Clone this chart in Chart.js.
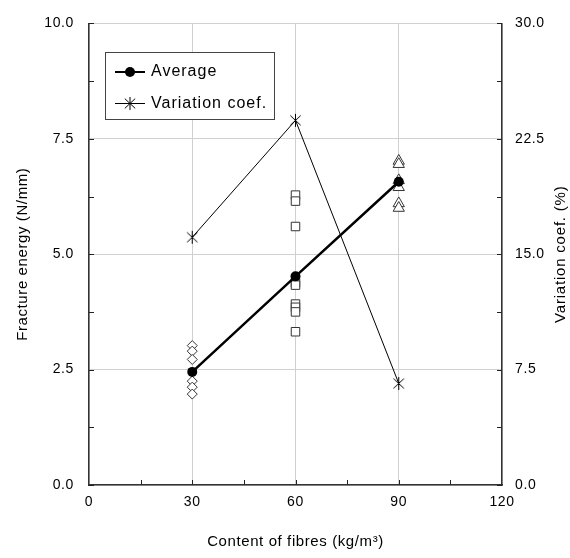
<!DOCTYPE html>
<html>
<head>
<meta charset="utf-8">
<script src="https://cdn.jsdelivr.net/npm/chart.js@4/dist/chart.umd.min.js"></script>
<style>
  html, body { margin: 0; padding: 0; background: #fff; }
  #wrap { width: 570px; height: 558px; }
</style>
</head>
<body>
<div id="wrap"><canvas id="cv" width="570" height="558"></canvas></div>
<script>
// fibre contents (kg/m3)
const fibres = [30, 60, 90];

// individual results (N/mm)
const spec30 = [3.02, 2.90, 2.72, 2.25, 2.12, 1.97];
const spec60 = [6.28, 6.15, 5.60, 4.38, 4.33, 3.92, 3.85, 3.75, 3.32];
const spec90 = [7.02, 6.95, 6.60, 6.45, 6.10, 6.00];

const average = [2.45, 4.52, 6.57];
const variationCoef = [16.1, 23.7, 6.6];

const leftTicks = [0, 2.5, 5, 7.5, 10];
const rightTicks = [0, 7.5, 15, 22.5, 30];
const xTicks = [0, 30, 60, 90, 120];

const FONT = "'Liberation Sans', Arial, sans-serif";
const pts = (x, ys) => ys.map(y => ({ x, y }));

// six-ray asterisk like the original marker
function drawAsterisk(ctx, cx, cy, r) {
  ctx.beginPath();
  ctx.moveTo(cx, cy - r); ctx.lineTo(cx, cy + r);
  ctx.moveTo(cx - r * 0.8, cy - r * 0.75); ctx.lineTo(cx + r * 0.8, cy + r * 0.75);
  ctx.moveTo(cx + r * 0.8, cy - r * 0.75); ctx.lineTo(cx - r * 0.8, cy + r * 0.75);
  ctx.stroke();
}
const asterisk = document.createElement('canvas');
asterisk.width = 15; asterisk.height = 15;
(() => {
  const c = asterisk.getContext('2d');
  c.strokeStyle = '#000';
  c.lineWidth = 1;
  drawAsterisk(c, 7.5, 7.5, 6.5);
})();

const openMark = (style, r, data) => ({
  type: 'scatter',
  data,
  yAxisID: 'y',
  order: 3,
  pointStyle: style,
  pointRadius: r,
  borderColor: '#333',
  backgroundColor: '#fff',
  borderWidth: 1,
  showLine: false
});

// inside tick marks, right title and legend box
const decor = {
  id: 'decor',
  beforeDraw(chart) {
    chart.ctx.letterSpacing = '0.6px';
  },
  afterDraw(chart) {
    const { ctx, chartArea: a, scales } = chart;
    ctx.save();
    ctx.strokeStyle = '#222';
    ctx.lineWidth = 1;
    ctx.beginPath();
    for (let v = 0; v <= 10; v += 1.25) {
      const y = Math.round(scales.y.getPixelForValue(v)) + 0.5;
      ctx.moveTo(a.left, y); ctx.lineTo(a.left + 5, y);
    }
    for (let v = 0; v <= 30; v += 3.75) {
      const y = Math.round(scales.y2.getPixelForValue(v)) + 0.5;
      ctx.moveTo(a.right, y); ctx.lineTo(a.right - 5, y);
    }
    for (let v = 15; v < 120; v += 15) {
      const x = Math.round(scales.x.getPixelForValue(v)) + 0.5;
      ctx.moveTo(x, a.bottom); ctx.lineTo(x, a.bottom - 5);
    }
    ctx.stroke();

    // right axis title, reading bottom-up
    ctx.save();
    ctx.translate(561, (a.top + a.bottom) / 2);
    ctx.rotate(-Math.PI / 2);
    ctx.fillStyle = '#000';
    ctx.font = '15px ' + FONT;
    ctx.letterSpacing = '0.8px';
    ctx.textAlign = 'center';
    ctx.textBaseline = 'middle';
    ctx.fillText('Variation coef. (%)', 0, 0);
    ctx.restore();

    // legend
    const bx = 105, by = 52, bw = 169, bh = 67;
    ctx.fillStyle = '#fff';
    ctx.fillRect(bx, by, bw, bh);
    ctx.strokeStyle = '#444';
    ctx.strokeRect(bx + 0.5, by + 0.5, bw, bh);

    ctx.strokeStyle = '#000';
    ctx.lineWidth = 2;
    ctx.beginPath(); ctx.moveTo(115, 72); ctx.lineTo(145, 72); ctx.stroke();
    ctx.fillStyle = '#000';
    ctx.beginPath(); ctx.arc(130, 72, 5, 0, Math.PI * 2); ctx.fill();

    ctx.lineWidth = 1;
    ctx.beginPath(); ctx.moveTo(115, 103.5); ctx.lineTo(145, 103.5); ctx.stroke();
    drawAsterisk(ctx, 130, 103.5, 6.5);

    ctx.fillStyle = '#000';
    ctx.font = '16px ' + FONT;
    ctx.letterSpacing = '1px';
    ctx.textAlign = 'left';
    ctx.textBaseline = 'middle';
    ctx.fillText('Average', 151, 72);
    ctx.fillText('Variation coef.', 151, 104);
    ctx.restore();
  }
};

new Chart(document.getElementById('cv'), {
  type: 'scatter',
  data: {
    datasets: [
      openMark('rectRot', 5, pts(fibres[0], spec30)),
      openMark('rect', 6, pts(fibres[1], spec60)),
      openMark('triangle', 6.5, pts(fibres[2], spec90)),
      {
        type: 'line',
        label: 'Average',
        order: 1,
        data: fibres.map((x, i) => ({ x, y: average[i] })),
        yAxisID: 'y',
        borderColor: '#000',
        backgroundColor: '#000',
        borderWidth: 2.5,
        pointRadius: 5,
        pointBorderWidth: 0,
        pointStyle: 'circle',
        tension: 0
      },
      {
        type: 'line',
        label: 'Variation coef.',
        order: 2,
        data: fibres.map((x, i) => ({ x, y: variationCoef[i] })),
        yAxisID: 'y2',
        borderColor: '#000',
        borderWidth: 1,
        pointStyle: asterisk,
        tension: 0
      }
    ]
  },
  options: {
    responsive: false,
    animation: false,
    layout: { padding: { top: 18, left: 0, right: 0, bottom: 0 } },
    plugins: { legend: { display: false }, tooltip: { enabled: false } },
    scales: {
      x: {
        type: 'linear',
        min: 0, max: 120,
        afterBuildTicks: s => { s.ticks = xTicks.map(v => ({ value: v })); },
        afterFit: s => { s.height = 73; },
        grid: { color: '#d0d0d0', drawTicks: false },
        border: { color: '#333', width: 1.5 },
        ticks: { color: '#000', padding: 9, font: { family: FONT, size: 14 } },
        title: {
          display: true,
          text: 'Content of fibres (kg/m³)',
          color: '#000',
          font: { family: FONT, size: 15 },
          padding: { top: 0, bottom: 7 }
        }
      },
      y: {
        position: 'left',
        min: 0, max: 10,
        afterBuildTicks: s => { s.ticks = leftTicks.map(v => ({ value: v })); },
        afterFit: s => { s.width = 89; },
        grid: { color: '#d0d0d0', drawTicks: false },
        border: { color: '#333', width: 1.5 },
        ticks: { color: '#000', padding: 15, font: { family: FONT, size: 14 },
                 callback: v => v.toFixed(1) },
        title: {
          display: true,
          text: 'Fracture energy (N/mm)',
          color: '#000',
          font: { family: FONT, size: 15 },
          padding: { top: 14, bottom: 0 }
        }
      },
      y2: {
        position: 'right',
        min: 0, max: 30,
        afterBuildTicks: s => { s.ticks = rightTicks.map(v => ({ value: v })); },
        afterFit: s => { s.width = 68; },
        grid: { drawOnChartArea: false, drawTicks: false },
        border: { color: '#333', width: 1.5 },
        ticks: { color: '#000', padding: 13, font: { family: FONT, size: 14 },
                 callback: v => v.toFixed(1) },
        title: { display: false }
      }
    }
  },
  plugins: [decor]
});
</script>
</body>
</html>
